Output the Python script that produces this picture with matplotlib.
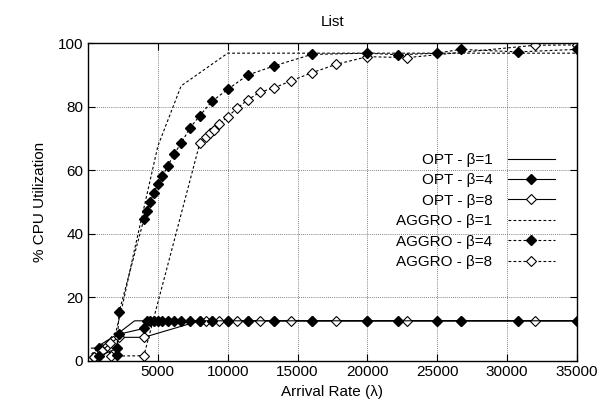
import matplotlib
matplotlib.use("Agg")
import matplotlib.pyplot as plt

plt.rcParams['font.family'] = ['Liberation Sans', 'DejaVu Sans']
plt.rcParams['font.size'] = 11

# OPT series (solid lines)
opt1_x = [250, 500, 2000, 3333, 5000, 10000, 35000]
opt1_y = [3.9, 3.9, 8.0, 12.5, 12.5, 12.5, 12.5]

opt4_x = [800, 2050, 2222, 4000, 4211, 4444, 4706, 5000, 5333, 5714, 6154, 6667,
          7273, 8000, 8889, 10000, 11429, 13333, 16000, 20000, 22222, 25000,
          26667, 30769, 35000]
opt4_y = [1.4, 3.8, 8.3, 10.1, 12.5, 12.5, 12.5, 12.5, 12.5, 12.5, 12.5, 12.5,
          12.5, 12.5, 12.5, 12.5, 12.5, 12.5, 12.5, 12.5, 12.5, 12.5,
          12.5, 12.5, 12.5]

opt8_x = [400, 1000, 1571, 2222, 4000, 8000, 8421, 8889, 9412, 10000, 10667,
          11429, 12308, 13333, 14545, 16000, 17778, 20000, 22857, 26667, 32000, 35000]
opt8_y = [1.0, 3.0, 5.4, 7.3, 7.3, 12.5, 12.5, 12.5, 12.5, 12.5, 12.5,
          12.5, 12.5, 12.5, 12.5, 12.5, 12.5, 12.5, 12.5, 12.5, 12.5, 12.5]

# AGGRO series (dashed lines)
agg1_x = [250, 500, 1000, 2000, 2500, 3333, 5000, 6667, 10000, 20000, 35000]
agg1_y = [2.0, 3.0, 4.0, 9.0, 18.0, 35.0, 67.5, 86.5, 96.8, 96.8, 96.8]

agg4_x = [800, 2050, 2222, 4000, 4211, 4444, 4706, 5000, 5333, 5714, 6154, 6667,
          7273, 8000, 8889, 10000, 11429, 13333, 16000, 20000, 22222, 25000,
          26667, 30769, 35000]
agg4_y = [3.8, 1.7, 15.2, 44.5, 47.2, 49.9, 52.7, 55.5, 58.1, 61.3, 65.0, 68.4,
          73.1, 77.1, 81.7, 85.4, 89.9, 92.8, 96.4, 96.8, 96.3, 96.8,
          98.0, 97.2, 98.0]

agg8_x = [400, 1000, 1333, 1619, 4000, 8000, 8421, 8750, 9000, 9412, 10000,
          10667, 11429, 12308, 13333, 14545, 16000, 17778, 20000, 22857, 32000, 35000]
agg8_y = [1.0, 3.5, 4.6, 1.4, 1.5, 68.4, 70.3, 71.6, 72.6, 74.5, 76.8,
          79.4, 82.1, 84.5, 85.9, 88.1, 90.6, 93.3, 95.7, 95.4, 99.3, 99.4]

fig = plt.figure(figsize=(6.14, 4.16), dpi=100)
ax = fig.add_axes([0.1433, 0.1334, 0.7964, 0.7632])

dash = (0, (2.5, 2))
lw = 0.8
ms = 5.2

ax.plot(agg1_x, agg1_y, color='black', lw=lw, ls=dash, label='AGGRO - β=1')
ax.plot(agg8_x, agg8_y, color='black', lw=lw, ls=dash, marker='D', ms=ms,
        mfc='white', mec='black', mew=0.8, label='AGGRO - β=8')
ax.plot(agg4_x, agg4_y, color='black', lw=lw, ls=dash, marker='D', ms=ms,
        mfc='black', mec='black', label='AGGRO - β=4')
ax.plot(opt1_x, opt1_y, color='black', lw=lw, ls='-', label='OPT - β=1')
ax.plot(opt8_x, opt8_y, color='black', lw=lw, ls='-', marker='D', ms=ms,
        mfc='white', mec='black', mew=0.8, label='OPT - β=8')
ax.plot(opt4_x, opt4_y, color='black', lw=lw, ls='-', marker='D', ms=ms,
        mfc='black', mec='black', label='OPT - β=4')

ax.set_xlim(0, 35000)
ax.set_ylim(0, 100)
ax.set_xticks([5000, 10000, 15000, 20000, 25000, 30000, 35000])
ax.set_yticks([0, 20, 40, 60, 80, 100])
ax.tick_params(direction='in', top=True, right=True, length=5, width=0.8, labelsize=11)
ax.grid(True, color='0.35', ls=(0, (1, 1.5)), lw=0.6)
for s in ax.spines.values():
    s.set_linewidth(1.0)

ax.set_title('List', fontsize=11, pad=12)
ax.set_xlabel('Arrival Rate (λ)', fontsize=11, labelpad=4)
ax.set_ylabel('% CPU Utilization', fontsize=11, labelpad=8)

handles, labels = ax.get_legend_handles_labels()
order = ['OPT - β=1', 'OPT - β=4', 'OPT - β=8', 'AGGRO - β=1', 'AGGRO - β=4', 'AGGRO - β=8']
hd = dict(zip(labels, handles))
leg = ax.legend([hd[k] for k in order], order, loc='center right',
                bbox_to_anchor=(0.955, 0.471), frameon=False, markerfirst=False,
                handlelength=3.1, handletextpad=1.0, labelspacing=0.42,
                borderpad=0, borderaxespad=0, fontsize=11)

fig.savefig('out.png', dpi=100)
